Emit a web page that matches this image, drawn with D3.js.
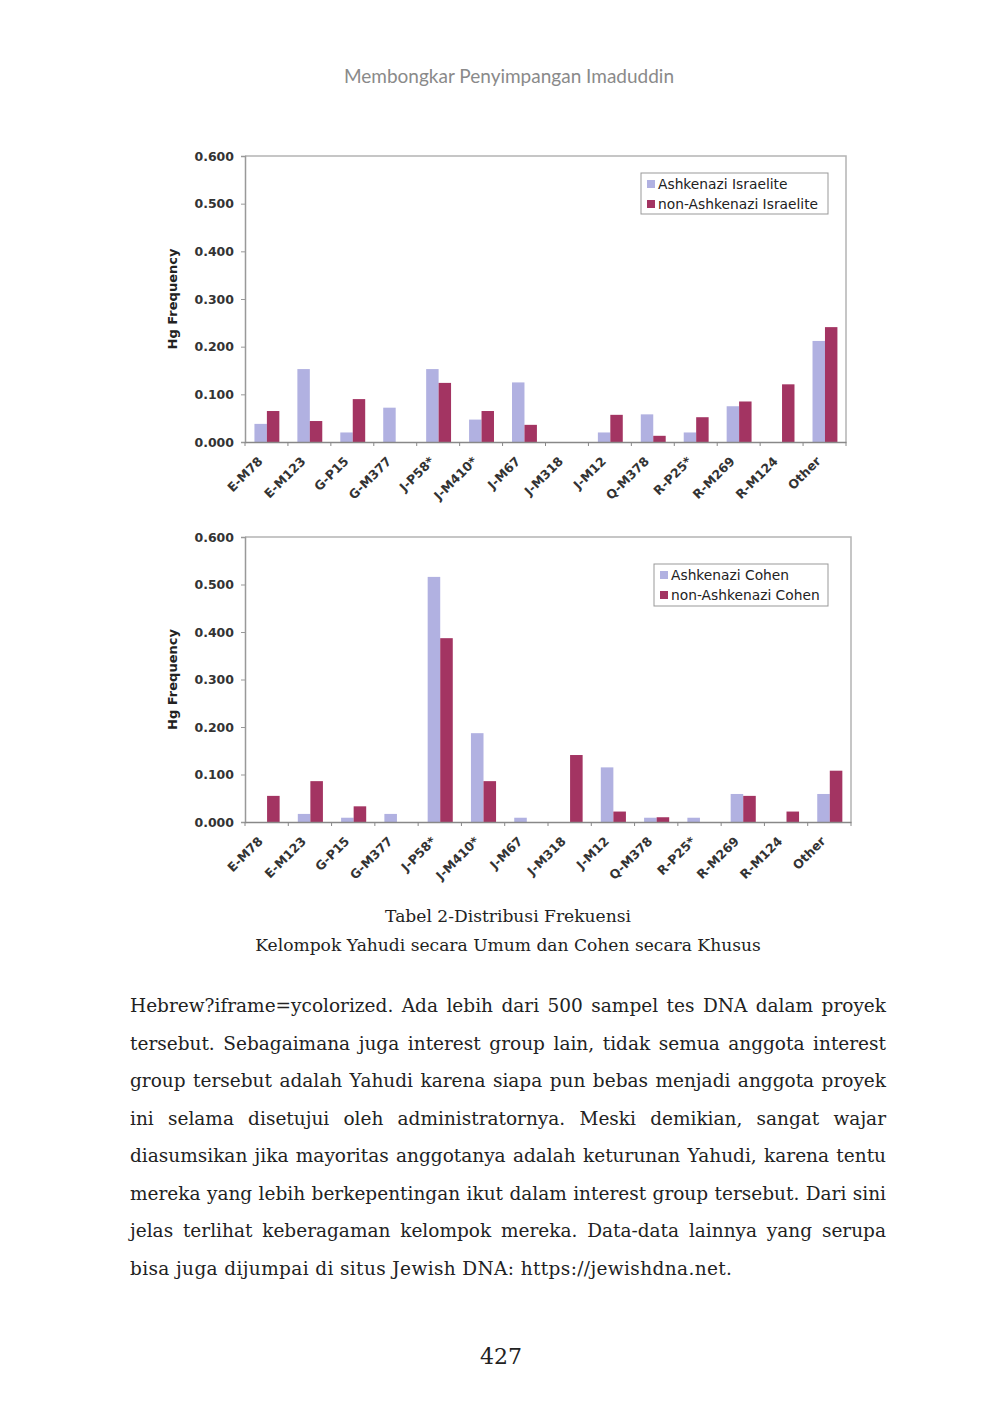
<!DOCTYPE html>
<html>
<head>
<meta charset="utf-8">
<script src="https://cdn.jsdelivr.net/npm/d3@7"></script>
<style>
  body { margin: 0; background: #fff; }
  #page { position: relative; width: 1004px; height: 1417px; overflow: hidden; }
  .head { position: absolute; left: 0; width: 1004px; top: 64px; text-align: center;
          font-family: Lato, sans-serif; font-size: 19px; color: #8a8a8a; padding-left: 14px; box-sizing: border-box; }
  .caption { position: absolute; left: 0; width: 1016px; text-align: center;
             font-family: "DejaVu Serif", serif; font-size: 17.1px; color: #222; }
  .body { position: absolute; left: 130px; width: 756px; top: 989px;
          font-family: "DejaVu Serif", serif; font-size: 18.5px; color: #222; }
  .body div { height: 37.5px; line-height: 34px; white-space: nowrap; }
  .body div.just { text-align: justify; text-align-last: justify; }
  .body div.last { letter-spacing: 0.37px; }
  .pagenum { position: absolute; left: 0; width: 1002px; top: 1344px; text-align: center;
             font-family: "DejaVu Serif", serif; font-size: 22px; color: #222; }
  svg { position: absolute; left: 0; top: 0; }
</style>
</head>
<body>
<div id="page"></div>
<script>
//haplogroup categories shared by both charts
var categories = ["E-M78", "E-M123", "G-P15", "G-M377", "J-P58*", "J-M410*", "J-M67",
                  "J-M318", "J-M12", "Q-M378", "R-P25*", "R-M269", "R-M124", "Other"];

//top chart: Israelite
var ashkenaziIsraelite    = [0.038, 0.153, 0.020, 0.072, 0.153, 0.047, 0.125, 0.000, 0.020, 0.058, 0.020, 0.075, 0.000, 0.212];
var nonAshkenaziIsraelite = [0.065, 0.044, 0.090, 0.000, 0.124, 0.065, 0.036, 0.000, 0.057, 0.013, 0.052, 0.085, 0.121, 0.241];

//bottom chart: Cohen
var ashkenaziCohen    = [0.000, 0.017, 0.009, 0.017, 0.516, 0.187, 0.009, 0.000, 0.115, 0.009, 0.009, 0.059, 0.000, 0.059];
var nonAshkenaziCohen = [0.055, 0.086, 0.033, 0.000, 0.387, 0.086, 0.000, 0.141, 0.022, 0.010, 0.000, 0.055, 0.022, 0.108];

var yTicks = [0, 0.1, 0.2, 0.3, 0.4, 0.5, 0.6];

var bodyLines = [
    "Hebrew?iframe=ycolorized. Ada lebih dari 500 sampel tes DNA dalam proyek",
    "tersebut. Sebagaimana juga interest group lain, tidak semua anggota interest",
    "group tersebut adalah Yahudi karena siapa pun bebas menjadi anggota proyek",
    "ini selama disetujui oleh administratornya. Meski demikian, sangat wajar",
    "diasumsikan jika mayoritas anggotanya adalah keturunan Yahudi, karena tentu",
    "mereka yang lebih berkepentingan ikut dalam interest group tersebut. Dari sini",
    "jelas terlihat keberagaman kelompok mereka. Data-data lainnya yang serupa",
    "bisa juga dijumpai di situs Jewish DNA: https://jewishdna.net."
];

var lightColor = "#b1b1e1",
    darkColor = "#a33462";

var page = d3.select("#page");

page.append("div").attr("class", "head").text("Membongkar Penyimpangan Imaduddin");

var svg = page.append("svg")
    .attr("width", 1004)
    .attr("height", 1417);

drawChart({left: 245, right: 846, top: 156, bottom: 442},
          ["Ashkenazi Israelite", "non-Ashkenazi Israelite"],
          [ashkenaziIsraelite, nonAshkenaziIsraelite],
          {x: 641, y: 173, w: 187, h: 41});

drawChart({left: 245, right: 851, top: 537, bottom: 822},
          ["Ashkenazi Cohen", "non-Ashkenazi Cohen"],
          [ashkenaziCohen, nonAshkenaziCohen],
          {x: 654, y: 564, w: 174, h: 42});

function drawChart(box, names, series, leg) {
    var g = svg.append("g");

    var x = d3.scaleBand()
        .domain(categories)
        .range([box.left, box.right]);

    var xInner = d3.scaleBand()
        .domain([0, 1])
        .range([x.bandwidth() * 0.22, x.bandwidth() * 0.80]);

    var y = d3.scaleLinear()
        .domain([0, 0.6])
        .range([box.bottom, box.top]);

    //plot frame (top and right)
    g.append("path")
        .attr("d", "M" + box.left + "," + box.top + "H" + box.right + "V" + box.bottom)
        .attr("fill", "none")
        .attr("stroke", "#b4b4b4")
        .attr("stroke-width", 1.5);

    //bars
    series.forEach(function(vals, si) {
        g.selectAll(".bar" + si)
            .data(categories)
            .enter()
            .append("rect")
            .attr("x", function(d) { return x(d) + xInner(si); })
            .attr("width", xInner.bandwidth())
            .attr("y", function(d, i) { return y(vals[i]); })
            .attr("height", function(d, i) { return box.bottom - y(vals[i]); })
            .attr("fill", si === 0 ? lightColor : darkColor);
    });

    //y axis
    var yAxis = g.append("g")
        .attr("transform", "translate(" + box.left + ",0)")
        .call(d3.axisLeft(y).tickValues(yTicks).tickFormat(d3.format(".3f")).tickSize(4).tickPadding(7));
    yAxis.select(".domain").attr("stroke", "#999").attr("stroke-width", 1.5);
    yAxis.selectAll(".tick line").attr("stroke", "#999");
    yAxis.selectAll("text")
        .attr("font-family", "DejaVu Sans, Verdana, sans-serif")
        .attr("font-size", 12.5)
        .attr("font-weight", "bold")
        .attr("fill", "#333");

    //x axis with ticks between categories
    var xAxis = g.append("g")
        .attr("transform", "translate(0," + box.bottom + ")")
        .call(d3.axisBottom(x).tickSize(0).tickPadding(0));
    xAxis.select(".domain").attr("stroke", "#888").attr("stroke-width", 1.5);
    xAxis.selectAll(".tick text")
        .attr("font-family", "DejaVu Sans, Verdana, sans-serif")
        .attr("font-size", 12.5)
        .attr("font-weight", "bold")
        .attr("fill", "#333")
        .attr("text-anchor", "end")
        .attr("dy", null)
        .attr("transform", "translate(-3,20) rotate(-45)");

    g.selectAll(".xsep")
        .data(categories.concat(["end"]))
        .enter()
        .append("line")
        .attr("x1", function(d, i) { return box.left + i * x.step(); })
        .attr("x2", function(d, i) { return box.left + i * x.step(); })
        .attr("y1", box.bottom)
        .attr("y2", box.bottom + 4)
        .attr("stroke", "#888");

    //axis title
    g.append("text")
        .attr("transform", "translate(177," + (box.top + box.bottom) / 2 + ") rotate(-90)")
        .attr("text-anchor", "middle")
        .attr("font-family", "DejaVu Sans, Verdana, sans-serif")
        .attr("font-size", 13)
        .attr("font-weight", "bold")
        .attr("fill", "#222")
        .text("Hg Frequency");

    //legend
    var lg = g.append("g").attr("transform", "translate(" + leg.x + "," + leg.y + ")");
    lg.append("rect")
        .attr("width", leg.w)
        .attr("height", leg.h)
        .attr("fill", "#fff")
        .attr("stroke", "#999");
    names.forEach(function(n, i) {
        lg.append("rect")
            .attr("x", 6)
            .attr("y", 7 + i * 20)
            .attr("width", 8)
            .attr("height", 8)
            .attr("fill", i === 0 ? lightColor : darkColor);
        lg.append("text")
            .attr("x", 17)
            .attr("y", 15.5 + i * 20)
            .attr("font-family", "DejaVu Sans, Verdana, sans-serif")
            .attr("font-size", 13.8)
            .attr("fill", "#222")
            .text(n);
    });
}

//caption
page.append("div").attr("class", "caption").style("top", "906px").text("Tabel 2-Distribusi Frekuensi");
page.append("div").attr("class", "caption").style("top", "935px").text("Kelompok Yahudi secara Umum dan Cohen secara Khusus");

//body paragraph, one div per printed line
var body = page.append("div").attr("class", "body");
body.selectAll("div")
    .data(bodyLines)
    .enter()
    .append("div")
    .attr("class", function(d, i) { return i < bodyLines.length - 1 ? "just" : "last"; })
    .text(function(d) { return d; });

page.append("div").attr("class", "pagenum").text("427");
</script>
</body>
</html>
